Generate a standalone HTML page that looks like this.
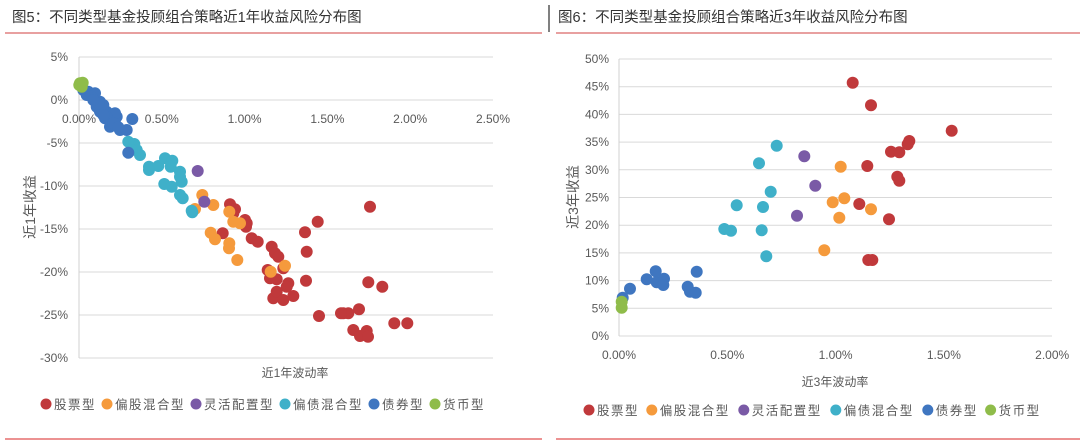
<!DOCTYPE html>
<html><head><meta charset="utf-8"><style>
body{margin:0;background:#fff;width:1080px;height:441px;overflow:hidden;font-family:"Liberation Sans","Noto Sans CJK SC",sans-serif}
svg text{font-family:"Liberation Sans","Noto Sans CJK SC",sans-serif}
</style></head><body>
<svg id="s" width="1080" height="441" xmlns="http://www.w3.org/2000/svg">
<text x="12" y="22" font-size="14.5" fill="#333">图5：不同类型基金投顾组合策略近1年收益风险分布图</text>
<text x="558" y="22" font-size="14.5" fill="#333">图6：不同类型基金投顾组合策略近3年收益风险分布图</text>
<line x1="549" y1="5" x2="549" y2="32" stroke="#555" stroke-width="1.5"/>
<line x1="5" y1="33" x2="542" y2="33" stroke="#d04040" stroke-width="1"/>
<line x1="556" y1="33" x2="1080" y2="33" stroke="#d04040" stroke-width="1"/>
<line x1="5" y1="439" x2="542" y2="439" stroke="#e05050" stroke-width="1.2"/>
<line x1="556" y1="439" x2="1080" y2="439" stroke="#e05050" stroke-width="1.2"/>
<g id="g"></g>
</svg>
<script>
var g=document.getElementById('g'),h='';
function T(x,y,t,a,extra){h+='<text x="'+x+'" y="'+y+'" font-size="12" fill="#595959" text-anchor="'+(a||'middle')+'" '+(extra||'')+'>'+t+'</text>';}
function L(x1,y1,x2,y2,c){h+='<line x1="'+x1+'" y1="'+y1+'" x2="'+x2+'" y2="'+y2+'" stroke="'+(c||'#d9d9d9')+'" stroke-width="1"/>';}
var C={r:'#c0393b',o:'#f59a3c',p:'#7a5aa6',c:'#3fb0c9',b:'#3f76c0',g:'#8fbc4a'};
for(var i=0;i<8;i++){var y=57+i*43;L(79,y,493,y);T(68,y+4,(5-5*i)+'%','end');}
L(79,57,79,358,'#d0d0d0');
['0.00%','0.50%','1.00%','1.50%','2.00%','2.50%'].forEach(function(t,i){T(79+i*82.8,123,t);});
T(295,377,'近1年波动率','middle','font-size="14"');
h+='<text transform="translate(35,207) rotate(-90)" font-size="14" fill="#595959" text-anchor="middle">近1年收益</text>';
for(var i=0;i<11;i++){var y=59+i*27.7;L(619,y,1052,y);T(609,y+4,(50-5*i)+'%','end');}
L(619,59,619,336,'#d0d0d0');
['0.00%','0.50%','1.00%','1.50%','2.00%'].forEach(function(t,i){T(619+i*108.3,359,t);});
T(835,386,'近3年波动率','middle','font-size="14"');
h+='<text transform="translate(578,197) rotate(-90)" font-size="14" fill="#595959" text-anchor="middle">近3年收益</text>';
function D(ox,oy,col,pts){for(var i=0;i<pts.length;i+=2)h+='<circle cx="'+(ox+pts[i]/3).toFixed(1)+'" cy="'+(oy+pts[i+1]/3).toFixed(1)+'" r="6" fill="'+col+'"/>';}
D(0,40,C.r,[690,493,705,508,700,520,735,540,740,550,738,560,668,580,755,595,773,605,815,620,825,640,835,650,850,685,803,690,810,715,830,718,865,730,860,740,820,775,830,755,850,780,880,768,953,545,915,577,920,635,918,722,1110,500,957,828,1030,820,1045,820,1077,808,1105,727,1147,740,1183,850,1060,870,1080,888,1023,820,1100,873,1104,890,1222,850]);
D(0,40,C.o,[607,465,640,495,585,507,688,515,700,545,720,550,632,578,645,598,688,610,687,625,712,660,812,695,855,677]);
D(0,40,C.p,[593,393,613,485]);
D(0,40,C.c,[385,305,403,312,420,345,447,380,475,378,495,355,517,362,512,380,540,395,540,410,545,425,493,432,515,440,540,465,548,475,577,517,575,512,410,330,447,390,395,330]);
D(0,40,C.b,[250,150,265,155,285,160,300,185,290,200,305,210,320,215,335,225,350,230,345,240,330,260,360,270,380,270,397,237,385,338,300,215,315,235,330,245,275,170,310,195,345,220,260,165,295,190,320,230,340,250,355,262,310,225,280,180]);
D(0,40,C.g,[240,130,245,140,238,135,248,128]);
D(560,40,C.r,[878,128,933,196,1175,272,1048,303,1043,313,993,335,1018,337,922,378,1012,410,1018,422,898,492,987,538,925,660,937,660]);
D(560,40,C.o,[842,380,818,487,853,475,933,508,838,533,793,631]);
D(560,40,C.p,[733,349,766,437,711,527]);
D(560,40,C.c,[650,317,597,370,632,455,530,496,609,501,493,567,513,572,605,571,619,649]);
D(560,40,C.b,[188,773,210,746,260,718,287,694,290,727,312,716,310,735,383,740,390,755,407,758,410,695]);
D(560,40,C.g,[185,785,185,803]);
var names=['股票型','偏股混合型','灵活配置型','偏债混合型','债券型','货币型'],cols=[C.r,C.o,C.p,C.c,C.b,C.g];
function Leg(x,y,cw){names.forEach(function(n,i){h+='<circle cx="'+(x+5)+'" cy="'+y+'" r="5.5" fill="'+cols[i]+'"/>';h+='<text x="'+(x+13)+'" y="'+(y+5)+'" font-size="12.5" fill="#595959" letter-spacing="1.5">'+n+'</text>';x+=13+n.length*cw+6;});}
Leg(41,404,14);Leg(584,410,14.6);
g.innerHTML=h;
</script>
</body></html>
